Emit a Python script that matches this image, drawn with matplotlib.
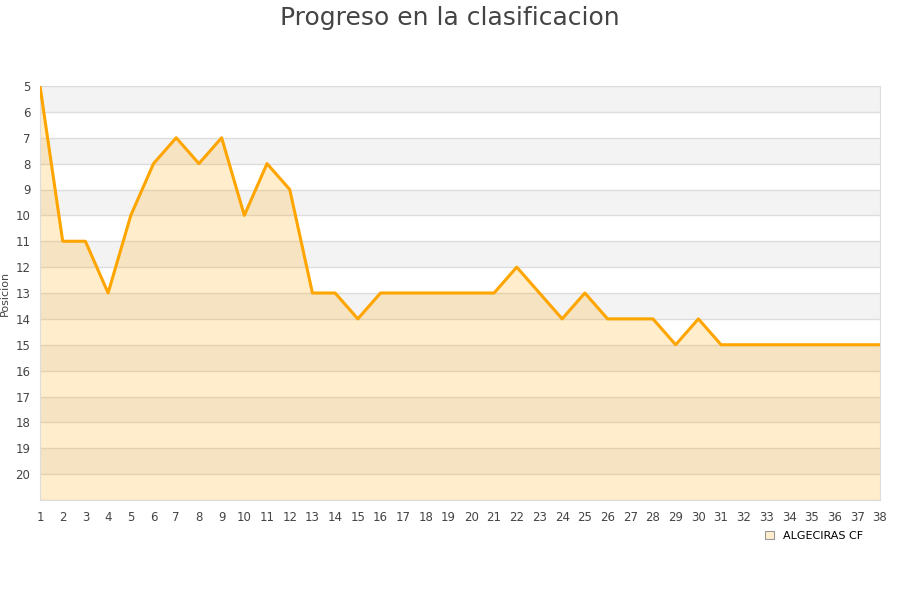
import matplotlib
matplotlib.use("Agg")
import matplotlib.pyplot as plt
from matplotlib.patches import Patch

# datos de la clasificacion por jornada
jornadas = list(range(1, 39))
posiciones = [5, 11, 11, 13, 10, 8, 7, 8, 7, 10,
              8, 9, 13, 13, 14, 13, 13, 13, 13, 13,
              13, 12, 13, 14, 13, 14, 14, 14, 15, 14,
              15, 15, 15, 15, 15, 15, 15, 15]
equipo = "ALGECIRAS CF"
y_ticks = list(range(5, 21))

fig = plt.figure(figsize=(9, 6), dpi=100)
ax = fig.add_axes([40 / 900, 100 / 600, 840 / 900, 414 / 600])

# bandas alternas
for i, y in enumerate(range(5, 21)):
    if i % 2 == 0:
        ax.axhspan(y, y + 1, color="#f3f3f3", zorder=0, lw=0)
for y in range(5, 22):
    ax.axhline(y, color="#dddddd", lw=1, zorder=1)

ax.fill_between(jornadas, posiciones, 21, color="#ffa500", alpha=0.2, lw=0, zorder=2)
ax.plot(jornadas, posiciones, color="#ffa500", lw=2.2, zorder=3)

ax.set_xlim(1, 38)
ax.set_ylim(21, 5)
ax.set_xticks(jornadas)
ax.set_yticks(y_ticks)
ax.tick_params(axis="both", length=0, labelsize=8.5, colors="#444444")
ax.tick_params(axis="x", pad=8)
ax.tick_params(axis="y", pad=7)
for s in ax.spines.values():
    s.set_color("#dddddd")
ax.set_ylabel("Posicion", fontsize=8, color="#444444")
ax.yaxis.set_label_coords(-30 / 840, 0.5)

fig.suptitle("Progreso en la clasificacion", fontsize=18, color="#444444", y=0.99)

handle = Patch(facecolor="#ffedcc", edgecolor="#999999", lw=0.8)
fig.legend([handle], [equipo], loc="center left", bbox_to_anchor=(755 / 900, 1 - 536 / 600),
           frameon=False, fontsize=8, handlelength=0.8, handleheight=0.8, handletextpad=0.8)

fig.savefig("out.png", dpi=100)
